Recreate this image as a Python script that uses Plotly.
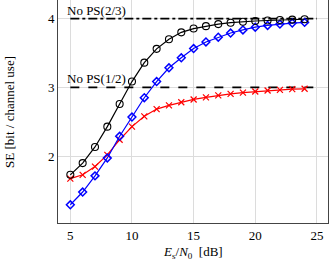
import plotly.graph_objects as go

snr = list(range(5, 25))
se_black = [1.73, 1.90, 2.135, 2.43, 2.76, 3.085, 3.36, 3.56, 3.70, 3.80, 3.855, 3.89, 3.92, 3.94, 3.955, 3.965, 3.972, 3.98, 3.985, 3.99]
se_blue = [1.295, 1.48, 1.715, 1.975, 2.29, 2.57, 2.85, 3.085, 3.285, 3.43, 3.565, 3.66, 3.73, 3.79, 3.835, 3.875, 3.90, 3.92, 3.935, 3.945]
se_red = [1.675, 1.73, 1.85, 2.02, 2.24, 2.43, 2.58, 2.685, 2.74, 2.785, 2.825, 2.855, 2.885, 2.905, 2.925, 2.94, 2.955, 2.965, 2.975, 2.98]
ref_x = [5, 25]
ref_23 = [4, 4]
ref_12 = [3, 3]
ref_labels = ["No PS(2/3)", "No PS(1/2)"]
x_ticks = [5, 10, 15, 20, 25]
y_ticks = [2, 3, 4]
x_title = "<i>E</i><sub>s</sub>/<i>N</i><sub>0</sub>  [dB]"
y_title = "SE [bit / channel use]"

FONT = "Liberation Serif"
fig = go.Figure()
fig.add_trace(go.Scatter(x=ref_x, y=ref_23, mode="lines",
                         line=dict(color="black", width=1.6, dash="dashdot"), showlegend=False))
fig.add_trace(go.Scatter(x=ref_x, y=ref_12, mode="lines",
                         line=dict(color="black", width=1.6, dash="dash"), showlegend=False))
fig.add_trace(go.Scatter(x=snr, y=se_red, mode="lines+markers",
                         line=dict(color="red", width=1.2),
                         marker=dict(symbol="x-thin-open", size=6, line=dict(color="red", width=1.2)),
                         showlegend=False))
fig.add_trace(go.Scatter(x=snr, y=se_blue, mode="lines+markers",
                         line=dict(color="blue", width=1.2),
                         marker=dict(symbol="diamond-open", size=6, line=dict(color="blue", width=1.5)),
                         showlegend=False))
fig.add_trace(go.Scatter(x=snr, y=se_black, mode="lines+markers",
                         line=dict(color="black", width=1.2),
                         marker=dict(symbol="circle-open", size=7, line=dict(color="black", width=1.1)),
                         showlegend=False))

for yv, lab in ((ref_23[0], ref_labels[0]), (ref_12[0], ref_labels[1])):
    fig.add_annotation(x=5, y=yv, xref="x", yref="y", text=lab, showarrow=False,
                       xanchor="left", yanchor="bottom", xshift=-5, yshift=-1,
                       font=dict(family=FONT, size=13, color="black"))

fig.add_annotation(x=0.5, y=-0.134, xref="paper", yref="paper", text=x_title, showarrow=False,
                   xanchor="center", yanchor="middle", font=dict(family=FONT, size=13, color="black"))
fig.add_annotation(x=-0.18, y=0.5, xref="paper", yref="paper", text=y_title, showarrow=False,
                   textangle=-90, xanchor="center", yanchor="middle",
                   font=dict(family=FONT, size=13, color="black"))

fig.update_layout(
    width=329, height=266,
    margin=dict(l=58, r=1, t=0, b=43),
    plot_bgcolor="white", paper_bgcolor="white",
    font=dict(family=FONT, size=13, color="black"),
    xaxis=dict(range=[4.0, 25.9], tickvals=x_ticks, showgrid=True, gridcolor="#dcdcdc", gridwidth=1,
               showline=True, linecolor="#444", linewidth=1, zeroline=False, automargin=False,
               ticks="", ticklen=0, tickfont=dict(family=FONT, size=13)),
    yaxis=dict(range=[1.03, 4.27], tickvals=y_ticks, showgrid=True, gridcolor="#dcdcdc", gridwidth=1,
               showline=True, linecolor="#444", linewidth=1, mirror=True, zeroline=False, automargin=False,
               ticks="", tickfont=dict(family=FONT, size=13)),
)
fig.write_html("out.html", config={"displayModeBar": False},
               post_script="document.body.style.margin='0';document.body.style.overflow='hidden';")
